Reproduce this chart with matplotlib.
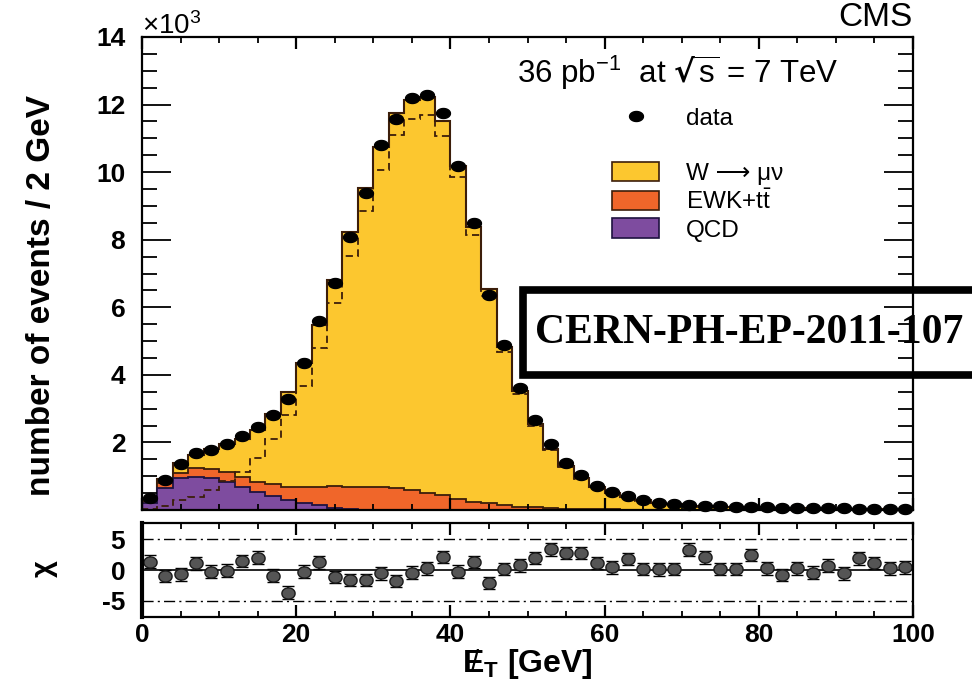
import numpy as np
import matplotlib
matplotlib.use('Agg')
import matplotlib.pyplot as plt
from matplotlib.patches import Rectangle, Patch
from matplotlib.lines import Line2D
from matplotlib.ticker import MultipleLocator, FuncFormatter, FixedLocator, FixedFormatter

plt.rcParams['font.family'] = ['Liberation Sans', 'DejaVu Sans']
plt.rcParams['font.weight'] = 'bold'
plt.rcParams['mathtext.default'] = 'regular'
plt.rcParams['axes.unicode_minus'] = False

# missing transverse energy, 2 GeV bins from 0 to 100 GeV
bin_edges = np.arange(0, 102, 2)
bin_centres = bin_edges[:-1] + 1

data = [345, 880, 1370, 1680, 1790, 1960, 2180, 2470, 2800, 3280,
        4350, 5580, 6720, 8070, 9380, 10800, 11580, 12200, 12280, 11750,
        10170, 8490, 6370, 4870, 3600, 2650, 1960, 1400, 1040, 720,
        530, 420, 300, 220, 180, 150, 125, 110, 95, 85,
        75, 68, 60, 55, 50, 45, 40, 36, 32, 28]

wmunu = [40, 110, 306, 396, 590, 850, 1120, 1540, 2090, 2800,
         3680, 4800, 6115, 7530, 8850, 10060, 11110, 11560, 11705, 11065,
         9850, 8140, 6330, 4680, 3420, 2475, 1765, 1260, 930, 668,
         494, 378, 281, 208, 165, 126, 102, 89, 78, 70,
         65, 59, 53, 48, 43, 39, 35, 31, 28, 25]

ewk = [80, 160, 150, 250, 270, 270, 300, 290, 345, 390,
       450, 555, 640, 665, 680, 685, 638, 590, 515, 445,
       320, 250, 200, 150, 100, 75, 55, 40, 30, 22,
       16, 12, 9, 7, 5, 4, 3, 3, 2, 2,
       1, 1, 1, 1, 1, 1, 1, 1, 1, 1]

qcd = [200, 640, 940, 990, 940, 840, 690, 540, 415, 300,
       220, 135, 60, 25, 10, 5, 2, 0, 0, 0,
       0, 0, 0, 0, 0, 0, 0, 0, 0, 0,
       0, 0, 0, 0, 0, 0, 0, 0, 0, 0,
       0, 0, 0, 0, 0, 0, 0, 0, 0, 0]

chi = [1.35, -0.97, -0.7, 1.07, -0.27, -0.1, 1.45, 2.0, -0.9, -3.65,
       -0.27, 1.24, -1.18, -1.6, -1.6, -0.54, -1.77, -0.43, 0.27, 2.15,
       -0.27, 1.3, -2.1, 0.15, 0.75, 1.9, 3.33, 2.8, 2.75, 1.1,
       0.43, 1.75, 0.2, 0.1, 0.18, 3.3, 2.04, 0.16, 0.16, 2.42,
       0.27, -0.8, 0.27, -0.43, 0.7, -0.54, 1.88, 1.18, 0.27, 0.43]
chi_err = [1.0] * len(chi)

chi_ticks = [-5, 0, 5]
chi_tick_labels = ['-5', '0', '5']

YELLOW = '#FCC72F'
ORANGE = '#F0662A'
PURPLE = '#7E4C9F'
EDGE = '#3C1E0A'

# flattened circle, the markers come out wider than tall
t = np.linspace(0, 2 * np.pi, 60)
ellipse = np.column_stack([np.cos(t), 0.72 * np.sin(t)])
ellipse_chi = np.column_stack([np.cos(t), 0.85 * np.sin(t)])

W, H = 972, 682
fig = plt.figure(figsize=(W / 100, H / 100), dpi=100)
ax = fig.add_axes([142 / W, 1 - 510 / H, 771 / W, 473 / H])
axr = fig.add_axes([142 / W, 1 - 617 / H, 771 / W, 94 / H])

# stacked backgrounds + signal
qcd_top = np.array(qcd, dtype=float)
ewk_top = qcd_top + np.array(ewk)
total = ewk_top + np.array(wmunu)

ax.stairs(total, bin_edges, fill=True, color=YELLOW, zorder=1)
ax.stairs(total, bin_edges, color=EDGE, lw=1.5, zorder=1.1)
ax.stairs(ewk_top, bin_edges, fill=True, color=ORANGE, zorder=1.2)
ax.stairs(ewk_top, bin_edges, color=EDGE, lw=1.3, zorder=1.3)
ax.stairs(qcd_top, bin_edges, fill=True, color=PURPLE, zorder=1.4)
ax.stairs(qcd_top, bin_edges, color='#1E1240', lw=1.3, zorder=1.5)
ax.stairs(wmunu, bin_edges, color=EDGE, lw=1.3, ls=(0, (4, 2.5)), zorder=1.6)

ax.plot(bin_centres, data, ls='none', marker=ellipse, ms=10, color='black',
        clip_on=False, zorder=3)

ax.set_xlim(0, 100)
ax.set_ylim(0, 14000)
ax.set_axisbelow(False)
ax.xaxis.set_major_locator(MultipleLocator(20))
ax.xaxis.set_minor_locator(MultipleLocator(5))
ax.yaxis.set_major_locator(MultipleLocator(2000))
ax.yaxis.set_minor_locator(MultipleLocator(500))
ax.yaxis.set_major_formatter(FuncFormatter(lambda v, p: '' if v == 0 else f'{v / 1000:.0f}'))
ax.tick_params(which='both', direction='in', top=True, right=True,
               labelbottom=False, labelsize=19, pad=12)
ax.tick_params(axis='y', which='major', length=21, width=1.3)
ax.tick_params(axis='y', which='minor', length=10.5, width=1.3)
ax.tick_params(axis='x', which='major', length=8.5, width=1.6)
ax.tick_params(axis='x', which='minor', length=4.3, width=1.3)
for s in ax.spines.values():
    s.set_linewidth(1.6)

ax.text(0.0, 1.0 + 11 / 473, r'$\times10^{3}$', transform=ax.transAxes,
        fontsize=20, weight='normal', ha='left', va='center')
fig.text(912 / W, 1 - 18 / H, 'CMS', ha='right', va='center', fontsize=24, weight='normal')
fig.text(678 / W, 1 - 73 / H, r'36 pb$^{-1}$  at $\sqrt{s}$ = 7 TeV',
         ha='center', va='center', fontsize=22.5, weight='normal')

handles = [Line2D([], [], ls='none', marker=ellipse, ms=10, color='black'),
           Line2D([], [], ls='none'),
           Patch(fc=YELLOW, ec=EDGE, lw=1.2),
           Patch(fc=ORANGE, ec=EDGE, lw=1.2),
           Patch(fc=PURPLE, ec='#1E1240', lw=1.2)]
labels = ['data', '', 'W ⟶ μν', r'EWK+t$\bar{t}$', 'QCD']
ax.legend(handles, labels, loc='upper left', bbox_to_anchor=(0.6096, 0.852),
          frameon=False, prop={'size': 17.5, 'weight': 'normal'},
          handlelength=1.95, handleheight=0.85, handletextpad=1.1,
          labelspacing=0.18, borderpad=0, borderaxespad=0)

# report number box, sits under the frame
box = Rectangle((523 / W, 1 - 375 / H), 500 / W, 85 / H, transform=fig.transFigure,
                fc='white', ec='black', lw=5.5, clip_on=False, zorder=2.2)
ax.add_artist(box)
ax.text(535 / W, 1 - 333 / H, 'CERN-PH-EP-2011-107', transform=fig.transFigure,
        family=['Liberation Serif'], fontsize=30, weight='bold',
        ha='left', va='center', clip_on=False, zorder=2.3)

fig.text(42 / W, 1 - 295 / H, 'number of events / 2 GeV', rotation=90,
         ha='center', va='center', fontsize=24)

# pull panel
axr.axhline(0, color='black', lw=1.2, zorder=1)
axr.axhline(5, color='black', lw=1.0, ls=(0, (8, 3, 1.5, 3)), zorder=1)
axr.axhline(-5, color='black', lw=1.0, ls=(0, (8, 3, 1.5, 3)), zorder=1)
axr.errorbar(bin_centres, chi, yerr=chi_err, ls='none', marker=ellipse_chi, ms=9.5,
             mfc='#555555', mec='#1A1A1A', mew=1.0, ecolor='black',
             elinewidth=1.2, capsize=4, capthick=1.2, zorder=2)
axr.set_xlim(0, 100)
axr.set_ylim(-7.6, 7.6)
axr.set_axisbelow(False)
axr.xaxis.set_major_locator(MultipleLocator(20))
axr.xaxis.set_minor_locator(MultipleLocator(5))
axr.yaxis.set_major_locator(FixedLocator(chi_ticks))
axr.yaxis.set_major_formatter(FixedFormatter(chi_tick_labels))
axr.tick_params(which='both', direction='in', top=True, right=True, labelsize=19)
axr.tick_params(axis='x', which='major', length=8.5, width=1.6, pad=4)
axr.tick_params(axis='x', which='minor', length=4.3, width=1.3)
axr.tick_params(axis='y', which='both', length=0, pad=12)
for s in axr.spines.values():
    s.set_linewidth(1.6)
axr.spines['left'].set_linewidth(3)
xlab = axr.set_xlabel(r'E$_{T}$ [GeV]', fontsize=23, fontweight='bold', labelpad=0)

fig.text(44 / W, 1 - 569 / H, 'χ', rotation=90, ha='center', va='center', fontsize=21)

# slash through the E of the x label
fig.canvas.draw()
bb = xlab.get_window_extent(fig.canvas.get_renderer())
fig.text((bb.x0 + 13) / W, (bb.y0 + bb.y1) / 2 / H + 1 / H, '/', ha='center', va='center',
         fontsize=21, weight='normal')

fig.savefig('out.png', dpi=100)
